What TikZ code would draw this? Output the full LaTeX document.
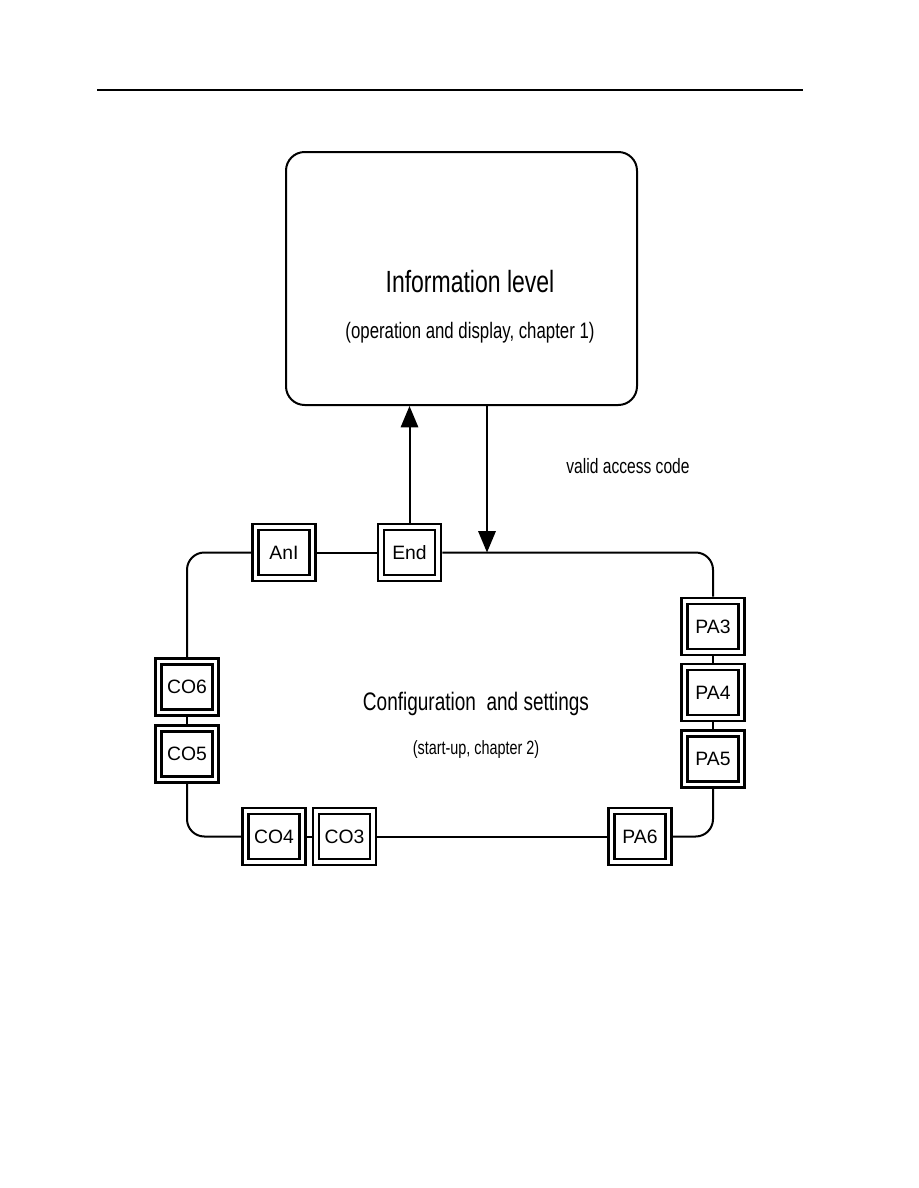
\documentclass[tikz,border=0pt]{standalone}
\usepackage{fontspec}
\setmainfont{Liberation Sans}
\newfontfamily\narrowfont[FakeStretch=0.75]{Liberation Sans}
\usetikzlibrary{arrows.meta}

\begin{document}
\begin{tikzpicture}
  [x=0.75pt, y=-0.75pt,
   menu/.style={draw, double, line width=2.2pt, double distance=2.3pt,
     minimum width=42.75pt, minimum height=38.25pt, inner sep=0pt,
     outer sep=3.35pt, font=\fontsize{14.5}{17}\selectfont},
   loop/.style={line width=1.5pt, rounded corners=13pt},
   flow/.style={line width=1.5pt, -{Triangle[length=16pt, width=13pt]}}]
  \useasboundingbox (0,0) rectangle (918,1188);
  \draw[line width=0.8pt] (97,90) -- (803,90);

  \node[draw, line width=1.5pt, rounded corners=14pt,
    minimum width=263.25pt, minimum height=189.75pt] (info) at (461.5,278.5) {};
  \node[font=\narrowfont\fontsize{23}{26}\selectfont] (infotitle) at (470,282) {Information level};
  \node[font=\narrowfont\fontsize{16.8}{19}\selectfont] (infonote) at (470,333) {(operation and display, chapter 1)};
  \node[font=\narrowfont\fontsize{15.6}{18}\selectfont] (access) at (628,466) {valid access code};
  \node[font=\narrowfont\fontsize{19}{22}\selectfont] (conftitle) at (476,704) {Configuration\ \ and settings};
  \node[font=\narrowfont\fontsize{14.4}{17}\selectfont] (confnote) at (476,750) {(start-up, chapter 2)};

  \node[menu] (AnI) at (284,552.5) {AnI};
  \node[menu] (End) at (409.5,552.5) {End};
  \node[menu] (PA3) at (713,626.5) {PA3};
  \node[menu] (PA4) at (713,692.5) {PA4};
  \node[menu] (PA5) at (713,759) {PA5};
  \node[menu] (PA6) at (640,836.5) {PA6};
  \node[menu] (CO3) at (344.5,836.5) {CO3};
  \node[menu] (CO4) at (274,836.5) {CO4};
  \node[menu] (CO5) at (187,754) {CO5};
  \node[menu] (CO6) at (187,687) {CO6};
  \coordinate (entry) at (487,552.5);

  \foreach \from/\to in {AnI/End,PA3/PA4,PA4/PA5,PA6/CO3,CO3/CO4,CO5/CO6}
  \draw[loop] (\from) -- (\to);
  \draw[loop] (End.east) -| (PA3.north);
  \draw[loop] (PA5.south) |- (PA6.east);
  \draw[loop] (CO4.west) -| (CO5.south);
  \draw[loop] (CO6.north) |- (AnI.west);

  \draw[flow] (End.north) -- (End.north |- info.south);
  \draw[flow] (entry |- info.south) -- (entry);
\end{tikzpicture}
\end{document}
